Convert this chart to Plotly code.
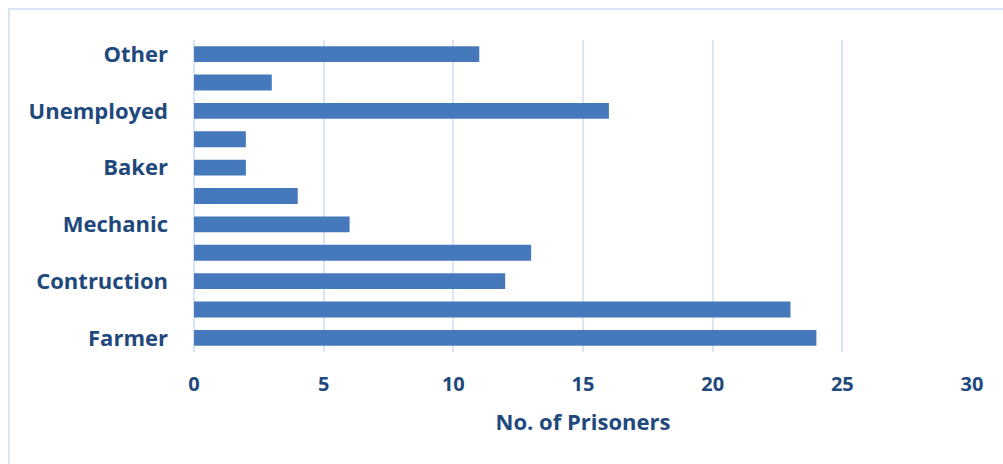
import plotly.graph_objects as go

# Occupation rows, bottom to top; only every other row carries a printed label
occupations = ["Farmer", "", "Contruction", "", "Mechanic", "", "Baker", "", "Unemployed", "", "Other"]
prisoners = [24, 23, 12, 13, 6, 4, 2, 2, 16, 3, 11]
x_ticks = [0, 5, 10, 15, 20, 25, 30]

rows = list(range(len(prisoners)))
label_rows = [i for i, name in enumerate(occupations) if name]
label_text = [occupations[i] for i in label_rows]

text_color = "#1F497D"
grid_color = "#D9E5F4"

fig = go.Figure(
    go.Bar(
        x=prisoners,
        y=rows,
        orientation="h",
        width=0.56,
        marker=dict(color="#4679BC", line=dict(width=0)),
        hoverinfo="x",
    )
)

fig.update_layout(
    width=1003,
    height=464,
    margin=dict(l=194, r=31, t=40, b=112),
    paper_bgcolor="white",
    plot_bgcolor="white",
    showlegend=False,
    font=dict(family="Open Sans, Lato, sans-serif", color=text_color),
    xaxis=dict(
        range=[0, 30],
        tickvals=x_ticks,
        showgrid=True,
        gridcolor=grid_color,
        gridwidth=2,
        zeroline=True,
        zerolinecolor=grid_color,
        zerolinewidth=2,
        showline=False,
        ticks="",
        tickfont=dict(size=20, color=text_color, family="Open Sans, sans-serif", weight="bold"),
        ticklabelstandoff=18,
        title=dict(
            text="<b>No. of Prisoners</b>",
            font=dict(size=22, color=text_color),
            standoff=18,
        ),
        fixedrange=True,
    ),
    yaxis=dict(
        range=[-0.5, len(prisoners) - 0.5],
        tickvals=label_rows,
        ticktext=label_text,
        showgrid=False,
        zeroline=False,
        showline=False,
        ticks="",
        tickfont=dict(size=22, color=text_color, family="Open Sans, sans-serif", weight="bold"),
        ticklabelstandoff=25,
        fixedrange=True,
    ),
    shapes=[
        dict(
            type="rect",
            xref="paper",
            yref="paper",
            x0=-185 / 778,
            x1=1.2,
            y0=-0.6,
            y1=1 + 31 / 312,
            line=dict(color="#D9E5F4", width=2),
            fillcolor="rgba(0,0,0,0)",
            layer="below",
        )
    ],
)

fig.write_html("out.html")
